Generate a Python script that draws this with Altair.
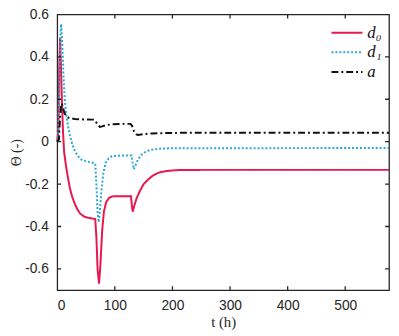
import altair as alt
import pandas as pd

# ---- data ----
series_names = ["d₀", "d₁", "a"]
series_colors = ["#E8174D", "#2BA6D6", "#111111"]
series_dash = [[1, 0], [2, 2], [7, 3, 2, 3]]

d0_t = [0, 2, 3.5, 5, 6.5, 8, 10, 12, 15, 18, 22, 26, 30, 35, 40, 48, 56, 66,
        68, 70, 72.5, 75, 78, 81, 85, 90, 96, 110, 128, 129.5, 131, 134, 138,
        143, 150, 158, 166, 176, 190, 210, 250, 576]
d0_v = [0.0, 0.05, 0.35, 0.49, 0.35, 0.2, 0.05, -0.05, -0.11, -0.16, -0.22,
        -0.26, -0.29, -0.32, -0.34, -0.355, -0.36, -0.365, -0.45, -0.6, -0.67,
        -0.58, -0.42, -0.33, -0.285, -0.265, -0.258, -0.257, -0.257, -0.3,
        -0.33, -0.3, -0.265, -0.235, -0.2, -0.178, -0.16, -0.146, -0.138,
        -0.134, -0.133, -0.133]

d1_t = [0, 2, 4, 5.5, 6.8, 9, 11, 13, 16, 19, 22, 26, 30, 35, 42, 50, 60, 66,
        68, 70, 72, 74, 77, 80, 84, 89, 95, 110, 129, 131, 133, 136, 140, 145,
        152, 160, 175, 195, 576]
d1_v = [0.0, 0.05, 0.3, 0.5, 0.555, 0.45, 0.3, 0.2, 0.12, 0.07, 0.03, -0.01,
        -0.04, -0.065, -0.085, -0.093, -0.098, -0.103, -0.2, -0.33, -0.38,
        -0.33, -0.22, -0.15, -0.1, -0.08, -0.068, -0.065, -0.065, -0.1, -0.13,
        -0.11, -0.085, -0.065, -0.05, -0.04, -0.034, -0.031, -0.03]

a_t = [0, 3, 5, 7, 8, 10, 12.5, 16, 20, 30, 45, 62, 66, 70, 74, 78, 85, 95,
       110, 127, 130, 133, 137, 140, 150, 165, 190, 230, 576]
a_v = [0.0, 0.01, 0.12, 0.175, 0.18, 0.16, 0.135, 0.12, 0.112, 0.107, 0.105,
       0.104, 0.1, 0.08, 0.07, 0.072, 0.078, 0.082, 0.084, 0.084, 0.075, 0.05,
       0.035, 0.032, 0.036, 0.039, 0.041, 0.042, 0.042]

x_ticks = [0, 100, 200, 300, 400, 500]
y_ticks = [-0.6, -0.4, -0.2, 0, 0.2, 0.4, 0.6]

rows = []
for name, ts, vs in [(series_names[0], d0_t, d0_v),
                     (series_names[1], d1_t, d1_v),
                     (series_names[2], a_t, a_v)]:
    for t, v in zip(ts, vs):
        rows.append({"t": t, "v": v, "s": name})
df = pd.DataFrame(rows)
xt_df = pd.DataFrame({"t": x_ticks})
yt_df = pd.DataFrame({"v": y_ticks})

W, H = 337, 280
TL = 4  # inward tick length (rules span both sides of the edge, clipped)
INK = "#262626"
xscale = alt.Scale(domain=[0, 576], nice=False, zero=False)
yscale = alt.Scale(domain=[-0.7, 0.6], nice=False, zero=False)
ylab = "datum.value == 0 ? '0' : (datum.value < 0 ? '-' : '') + format(abs(datum.value), '.1f')"

legend_kw = dict(orient="none", legendX=292, legendY=9, title=None,
                 symbolType="M-2.7,0L1,0", symbolSize=289, symbolStrokeWidth=2,
                 labelFont="Liberation Serif", labelFontStyle="italic",
                 labelFontSize=17, labelColor="#111111", labelOffset=4,
                 rowPadding=2, padding=0)

lines = alt.Chart(df).mark_line(strokeWidth=2).encode(
    x=alt.X("t:Q", scale=xscale,
            axis=alt.Axis(orient="bottom", values=x_ticks, ticks=False, domain=False,
                          grid=False, title="t (h)", labelPadding=9, titlePadding=2,
                          titleFont="Liberation Serif", titleFontSize=15,
                          titleFontWeight="normal", titleColor=INK)),
    y=alt.Y("v:Q", scale=yscale,
            axis=alt.Axis(orient="left", values=y_ticks, ticks=False, domain=False,
                          grid=False, title="Θ (-)", labelExpr=ylab, labelPadding=9,
                          titlePadding=1, titleFont="Liberation Serif", titleFontSize=14,
                          titleFontWeight="normal", titleColor=INK)),
    color=alt.Color("s:N", scale=alt.Scale(domain=series_names, range=series_colors),
                    legend=alt.Legend(**legend_kw)),
    strokeDash=alt.StrokeDash("s:N", scale=alt.Scale(domain=series_names, range=series_dash),
                              legend=alt.Legend(**legend_kw)),
)

rule_kw = dict(color=INK, strokeWidth=1.3, clip=True)
xb = alt.Chart(xt_df).mark_rule(**rule_kw).encode(
    x=alt.X("t:Q", scale=xscale, axis=None), y=alt.value(H - TL), y2=alt.value(H + TL))
xt = alt.Chart(xt_df).mark_rule(**rule_kw).encode(
    x=alt.X("t:Q", scale=xscale, axis=None), y=alt.value(-TL), y2=alt.value(TL))
yl = alt.Chart(yt_df).mark_rule(**rule_kw).encode(
    y=alt.Y("v:Q", scale=yscale, axis=None), x=alt.value(-TL), x2=alt.value(TL))
yr = alt.Chart(yt_df).mark_rule(**rule_kw).encode(
    y=alt.Y("v:Q", scale=yscale, axis=None), x=alt.value(W - TL), x2=alt.value(W + TL))

chart = alt.layer(lines, xb, xt, yl, yr).resolve_axis(
    x="independent", y="independent"
).properties(
    width=W, height=H,
    autosize=alt.AutoSizeParams(type="none"),
    padding={"left": 50, "top": 4, "right": 2, "bottom": 40},
).configure_view(
    stroke=INK, strokeWidth=1.3
).configure_axis(
    labelFont="Liberation Sans", labelFontSize=14, labelColor=INK
)

chart.save("out.html", embed_options={"renderer": "svg", "actions": False})
